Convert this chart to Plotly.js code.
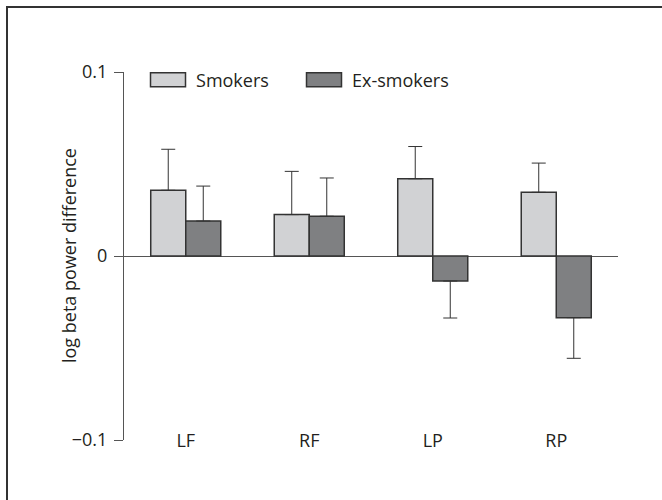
<!DOCTYPE html>
<html>
<head>
<meta charset="utf-8">
<script src="https://cdn.plot.ly/plotly-3.0.1.min.js"></script>
<style>
  html, body { margin: 0; padding: 0; background: #fff; overflow: hidden; }
  #wrap { position: relative; width: 662px; height: 500px; }
  #chart { width: 662px; height: 500px; }
  #frame { position: absolute; left: 6px; top: 6px; width: 720px; height: 600px;
           border-top: 2px solid #333; border-left: 2px solid #333; pointer-events: none; }
</style>
</head>
<body>
<div id="wrap">
  <div id="chart"></div>
  <div id="frame"></div>
</div>
<script>
// ---- data ----
var categories = ["LF", "RF", "LP", "RP"];
var seriesNames = ["Smokers", "Ex-smokers"];
var smokers = [0.0357, 0.0225, 0.0420, 0.0346];
var smokersErr = [0.0223, 0.0235, 0.0175, 0.0159];
var exSmokers = [0.0190, 0.0216, -0.0136, -0.0335];
var exSmokersErr = [0.0190, 0.0208, 0.0201, 0.0221];
var yTickVals = [-0.1, 0, 0.1];
var yTickText = ["\u22120.1", "0", "0.1"];
var yTitle = "log beta power difference";

// one-sided error bars: pointing away from zero
function plusPart(vals, errs) { return vals.map(function (v, i) { return v >= 0 ? errs[i] : 0; }); }
function minusPart(vals, errs) { return vals.map(function (v, i) { return v < 0 ? errs[i] : 0; }); }

var FONT = "'Open Sans', 'DejaVu Sans', sans-serif";
var TXT = "#231f20";
var AX = "#555";

var traces = [
  {
    type: "bar", name: seriesNames[0], x: categories, y: smokers,
    marker: { color: "#d1d2d4", line: { color: "#333", width: 1.5 } },
    error_y: { type: "data", symmetric: false,
      array: plusPart(smokers, smokersErr), arrayminus: minusPart(smokers, smokersErr),
      color: "#333", thickness: 1, width: 7 }
  },
  {
    type: "bar", name: seriesNames[1], x: categories, y: exSmokers,
    marker: { color: "#7f8082", line: { color: "#333", width: 1.5 } },
    error_y: { type: "data", symmetric: false,
      array: plusPart(exSmokers, exSmokersErr), arrayminus: minusPart(exSmokers, exSmokersErr),
      color: "#333", thickness: 1, width: 7 }
  }
];

var layout = {
  width: 662, height: 500,
  margin: { l: 124, r: 44, t: 72, b: 60, pad: 0 },
  paper_bgcolor: "#fff", plot_bgcolor: "#fff",
  font: { family: FONT, size: 18, color: TXT },
  barmode: "group", bargap: 0.433, bargroupgap: 0,
  showlegend: true,
  legend: {
    orientation: "h", x: 0.0324, xanchor: "left", y: 0.978, yanchor: "middle",
    itemwidth: 46, entrywidth: 95, entrywidthmode: "pixels",
    font: { family: FONT, size: 18, color: TXT },
    bgcolor: "rgba(0,0,0,0)", borderwidth: 0, traceorder: "normal"
  },
  xaxis: {
    type: "category", range: [-0.5, 3.5],
    showline: false, showgrid: false, zeroline: false, ticks: "",
    tickfont: { family: FONT, size: 18, color: TXT },
    ticklabelstandoff: -12,
    fixedrange: true
  },
  yaxis: {
    range: [-0.1, 0.1],
    tickvals: yTickVals, ticktext: yTickText,
    ticks: "outside", ticklen: 9, tickwidth: 1, tickcolor: AX,
    showline: true, linecolor: AX, linewidth: 1,
    zeroline: true, zerolinecolor: AX, zerolinewidth: 1,
    showgrid: false,
    tickfont: { family: FONT, size: 18, color: TXT },
    ticklabelstandoff: 3,
    automargin: false,
    fixedrange: true
  },
  annotations: [{
    text: yTitle, xref: "paper", yref: "paper", x: 0, y: 0.5,
    xanchor: "center", yanchor: "middle", xshift: -55, textangle: -90,
    showarrow: false, font: { family: FONT, size: 18, color: TXT }
  }]
};

Plotly.newPlot("chart", traces, layout, { displayModeBar: false, staticPlot: true }).then(function (gd) {
  // widen legend swatches to match the reference's 35x14 boxes
  var paths = gd.querySelectorAll(".legend path.legendbar, .legend .legendpoints path");
  paths.forEach(function (p) { p.setAttribute("d", "M17.5,7H-17.5V-7H17.5Z"); });
});
</script>
</body>
</html>
